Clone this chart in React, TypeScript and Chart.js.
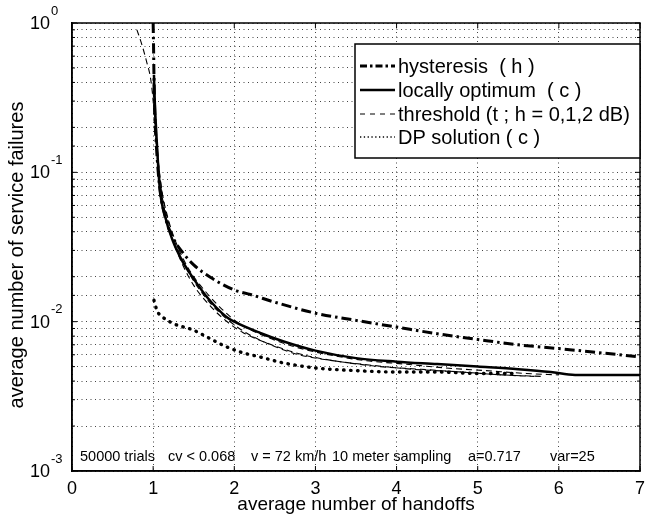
import { useEffect, useRef } from "react";
import { Chart, registerables } from "chart.js";

Chart.register(...registerables);

const FONT = "'Liberation Sans', Arial, Helvetica, sans-serif";

const xTicks = [0, 1, 2, 3, 4, 5, 6, 7];
const yDecades = [1, 0.1, 0.01, 0.001];
const yDecadeExponents = ["0", "-1", "-2", "-3"];

const hysteresisX = [1.0, 1.005, 1.01, 1.02, 1.04, 1.08, 1.15, 1.25, 1.37, 1.5, 1.7, 2.0, 2.2, 2.5, 3.0, 3.5, 4.0, 4.5, 5.0, 5.5, 6.0, 6.5, 7.0];
const hysteresisY = [1.0, 0.7, 0.45, 0.25, 0.15, 0.08, 0.05, 0.036, 0.0288, 0.024, 0.0199, 0.0163, 0.0152, 0.0135, 0.0114, 0.0102, 0.0092, 0.0083, 0.0076, 0.007, 0.0066, 0.0062, 0.0058];

const optimumX = [1.01, 1.02, 1.04, 1.08, 1.15, 1.24, 1.35, 1.45, 1.66, 1.9, 2.0, 2.32, 2.6, 3.0, 3.5, 4.0, 4.5, 5.0, 5.5, 5.9, 6.2, 7.0];
const optimumY = [0.45, 0.3, 0.18, 0.08, 0.05, 0.035, 0.026, 0.0212, 0.0147, 0.0108, 0.01, 0.0084, 0.0074, 0.0064, 0.0057, 0.0054, 0.0052, 0.005, 0.0048, 0.0046, 0.0044, 0.0044];

const threshold0X = [0.8, 0.86, 0.92, 0.97, 1.0, 1.03, 1.07, 1.13, 1.22, 1.35, 1.5, 1.7, 1.9, 2.1, 2.4, 2.8, 3.2, 3.7, 4.2, 4.8, 5.3, 5.8];
const threshold0Y = [0.9, 0.72, 0.55, 0.42, 0.3, 0.17, 0.1, 0.06, 0.038, 0.025, 0.0175, 0.0128, 0.0101, 0.0085, 0.0072, 0.0061, 0.0055, 0.0051, 0.0048, 0.0046, 0.0044, 0.0043];
const threshold1X = [1.0, 1.02, 1.05, 1.1, 1.18, 1.3, 1.45, 1.65, 1.85, 2.05, 2.35, 2.7, 3.1, 3.6, 4.1, 4.6, 5.1, 5.6, 6.0];
const threshold1Y = [0.4, 0.25, 0.14, 0.08, 0.05, 0.032, 0.022, 0.0158, 0.0121, 0.0098, 0.0081, 0.0069, 0.0061, 0.0055, 0.0052, 0.0049, 0.0047, 0.0045, 0.0044];
const threshold2X = [1.0, 1.03, 1.07, 1.12, 1.2, 1.32, 1.48, 1.68, 1.9, 2.15, 2.45, 2.8, 3.3, 3.8, 4.3, 4.8, 5.3, 5.7];
const threshold2Y = [0.35, 0.2, 0.11, 0.068, 0.044, 0.029, 0.0195, 0.0138, 0.0105, 0.0084, 0.007, 0.006, 0.0054, 0.005, 0.0048, 0.0046, 0.0044, 0.0043];

const dpX = [1.01, 1.05, 1.12, 1.25, 1.49, 1.7, 1.9, 2.1, 2.32, 2.6, 3.0, 3.5, 4.0, 4.5, 5.0, 5.5];
const dpY = [0.0139, 0.0118, 0.0107, 0.0097, 0.0088, 0.0077, 0.0068, 0.0062, 0.0058, 0.0053, 0.0049, 0.0047, 0.0046, 0.0046, 0.0045, 0.0045];

const legendLabels = ["hysteresis  ( h )", "locally optimum  ( c )", "threshold (t ; h = 0,1,2 dB)", "DP solution ( c )"];
const annotationParts = ["50000 trials", "cv < 0.068", "v = 72 km/h", "10 meter sampling", "a=0.717", "var=25"];
const annotationX = [80, 168, 251, 332, 468, 550];

const xTitle = "average number of handoffs";
const yTitle = "average number of service failures";

const pts = (xs: number[], ys: number[]) => xs.map((x, i) => ({ x, y: ys[i] }));

const styles = {
  hyst: { width: 3, dash: [10, 4, 2.5, 4], cap: "butt" as CanvasLineCap },
  opt: { width: 2.5, dash: [] as number[], cap: "butt" as CanvasLineCap },
  thr: { width: 1.1, dash: [6, 4], cap: "butt" as CanvasLineCap },
  dp: { width: 3.4, dash: [0.5, 6.5], cap: "round" as CanvasLineCap },
};

const textPlugin = {
  id: "textPlugin",
  afterDraw(chart: any) {
    const { ctx, chartArea, scales } = chart;
    const xs = scales.x;
    const ys = scales.y;
    ctx.save();
    ctx.strokeStyle = "#000";
    ctx.lineWidth = 1.5;
    ctx.setLineDash([]);
    ctx.strokeRect(chartArea.left, chartArea.top, chartArea.right - chartArea.left, chartArea.bottom - chartArea.top);
    ctx.lineWidth = 1;
    ctx.beginPath();
    xTicks.forEach((v) => {
      const px = xs.getPixelForValue(v);
      ctx.moveTo(px, chartArea.bottom);
      ctx.lineTo(px, chartArea.bottom - 5);
      ctx.moveTo(px, chartArea.top);
      ctx.lineTo(px, chartArea.top + 5);
    });
    ys.ticks.forEach((t: any) => {
      const py = ys.getPixelForValue(t.value);
      const major = yDecades.some((d) => Math.abs(d - t.value) < d * 1e-6);
      const len = major ? 5 : 3;
      ctx.moveTo(chartArea.left, py);
      ctx.lineTo(chartArea.left + len, py);
      ctx.moveTo(chartArea.right, py);
      ctx.lineTo(chartArea.right - len, py);
    });
    ctx.stroke();

    ctx.fillStyle = "#000";
    ctx.font = `18px ${FONT}`;
    ctx.textAlign = "center";
    ctx.textBaseline = "middle";
    xTicks.forEach((v) => {
      ctx.fillText(String(v), xs.getPixelForValue(v), chartArea.bottom + 18);
    });
    yDecades.forEach((d, i) => {
      const py = ys.getPixelForValue(d);
      ctx.font = `18px ${FONT}`;
      ctx.textAlign = "right";
      ctx.textBaseline = "middle";
      ctx.fillText("10", 50, py + 1);
      ctx.font = `13px ${FONT}`;
      ctx.textAlign = "left";
      ctx.fillText(yDecadeExponents[i], 51, py - 12);
    });
    ctx.font = `19px ${FONT}`;
    ctx.textAlign = "center";
    ctx.textBaseline = "middle";
    ctx.fillText(xTitle, (chartArea.left + chartArea.right) / 2, 505);
    ctx.save();
    ctx.font = `20px ${FONT}`;
    ctx.translate(17, (chartArea.top + chartArea.bottom) / 2 + 8);
    ctx.rotate(-Math.PI / 2);
    ctx.fillText(yTitle, 0, 0);
    ctx.restore();
    ctx.font = `14.5px ${FONT}`;
    ctx.textAlign = "left";
    ctx.textBaseline = "alphabetic";
    annotationParts.forEach((s, i) => ctx.fillText(s, annotationX[i], 461));

    const lx = 355, ly = 44, lw = chartArea.right - 355, lh = 114;
    ctx.fillStyle = "#fff";
    ctx.fillRect(lx, ly, lw, lh);
    ctx.strokeStyle = "#000";
    ctx.lineWidth = 1.5;
    ctx.strokeRect(lx, ly, lw, lh);
    const rows = [66, 90, 114, 137];
    const legendStyles = [
      { width: 3, dash: [7, 3, 2.5, 3], cap: "butt" as CanvasLineCap },
      styles.opt,
      { width: 1.1, dash: [5, 5], cap: "butt" as CanvasLineCap },
      { width: 1.3, dash: [1.3, 2.5], cap: "butt" as CanvasLineCap },
    ];
    rows.forEach((ry, i) => {
      const st = legendStyles[i];
      ctx.beginPath();
      ctx.lineWidth = st.width;
      ctx.lineCap = st.cap;
      ctx.setLineDash(st.dash);
      ctx.moveTo(360, ry);
      ctx.lineTo(395, ry);
      ctx.stroke();
      ctx.setLineDash([]);
      ctx.lineCap = "butt";
      ctx.fillStyle = "#000";
      ctx.font = `20px ${FONT}`;
      ctx.textBaseline = "middle";
      ctx.textAlign = "left";
      ctx.fillText(legendLabels[i], 398, ry + 1);
    });
    ctx.restore();
  },
};

export default function App() {
  const ref = useRef<HTMLCanvasElement>(null);
  useEffect(() => {
    document.body.style.margin = "0";
    const ds = (label: string, xs: number[], ys: number[], st: any) => ({
      label,
      data: pts(xs, ys),
      borderColor: "#000",
      backgroundColor: "#000",
      borderWidth: st.width,
      borderDash: st.dash,
      borderCapStyle: st.cap,
      pointRadius: 0,
      fill: false,
      cubicInterpolationMode: "monotone" as const,
    });
    const chart = new Chart(ref.current!, {
      type: "line",
      data: {
        datasets: [
          ds("threshold h=0", threshold0X, threshold0Y, styles.thr),
          ds("threshold h=1", threshold1X, threshold1Y, styles.thr),
          ds("threshold h=2", threshold2X, threshold2Y, styles.thr),
          ds("DP solution", dpX, dpY, styles.dp),
          ds("hysteresis", hysteresisX, hysteresisY, styles.hyst),
          ds("locally optimum", optimumX, optimumY, styles.opt),
        ],
      },
      options: {
        responsive: false,
        animation: false,
        devicePixelRatio: 1,
        layout: { padding: { top: 23, right: 10, left: 0, bottom: 0 } },
        plugins: { legend: { display: false }, tooltip: { enabled: false }, title: { display: false } },
        scales: {
          x: {
            type: "linear",
            min: 0,
            max: 7,
            ticks: { stepSize: 1, display: false },
            grid: { color: "#444", lineWidth: 1, drawTicks: false },
            border: { display: true, color: "#000", width: 1.5, dash: [1, 3.5] },
            afterFit: (s: any) => { s.height = 50; },
          },
          y: {
            type: "logarithmic",
            min: 0.001,
            max: 1,
            ticks: { display: false },
            grid: { color: "#444", lineWidth: 1, drawTicks: false },
            border: { display: true, color: "#000", width: 1.5, dash: [1, 3.5] },
            afterFit: (s: any) => { s.width = 72; },
          },
        },
      },
      plugins: [textPlugin],
    });
    return () => chart.destroy();
  }, []);
  return <canvas ref={ref} width={650} height={521} style={{ display: "block" }} />;
}
